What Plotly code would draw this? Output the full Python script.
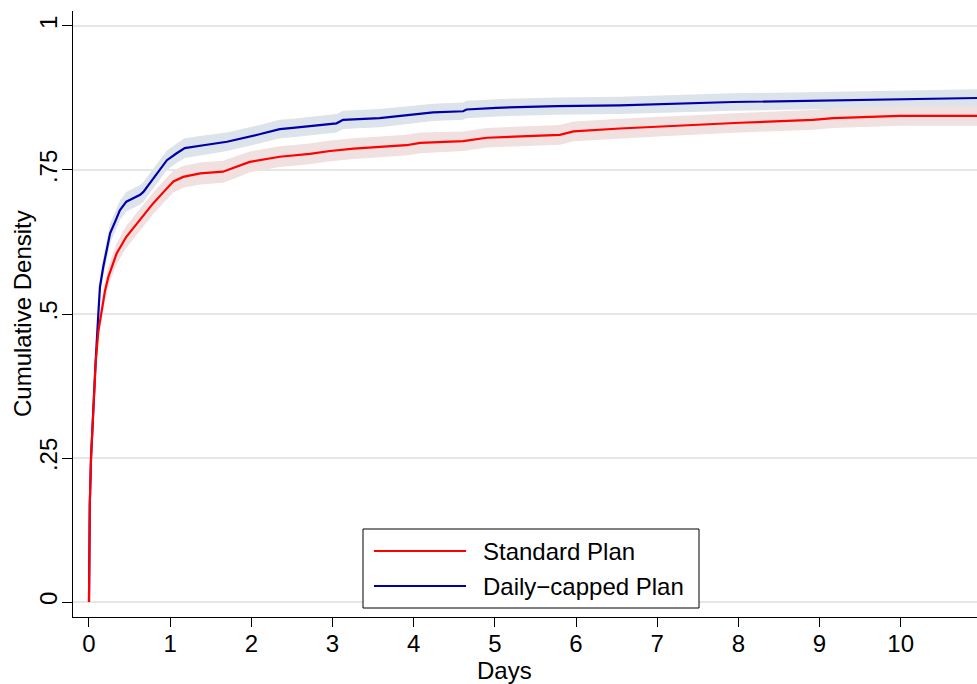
import plotly.graph_objects as go

# ---- data ----
std_days = [0, 0.01, 0.025, 0.053, 0.082, 0.115, 0.148, 0.197, 0.24, 0.34,
            0.46, 0.63, 0.79, 0.92, 1.04, 1.16, 1.37, 1.65, 1.77, 1.98,
            2.35, 2.72, 2.97, 3.26, 3.91, 4.08, 4.61, 4.9, 5.8, 5.97,
            6.54, 7.12, 8.02, 8.92, 9.17, 9.99, 10.94]
std_cdf = [0, 0.17, 0.25, 0.339, 0.415, 0.47, 0.5, 0.54, 0.565, 0.605,
           0.634, 0.663, 0.692, 0.712, 0.73, 0.738, 0.744, 0.747, 0.753, 0.764,
           0.773, 0.778, 0.783, 0.787, 0.793, 0.797, 0.8, 0.806, 0.811, 0.817,
           0.822, 0.826, 0.832, 0.837, 0.84, 0.844, 0.844]
std_ci = [0, 0.004, 0.007, 0.01, 0.012, 0.014, 0.015, 0.016, 0.017, 0.018,
          0.019, 0.019, 0.019, 0.019, 0.019, 0.019, 0.019, 0.019, 0.019, 0.018,
          0.018, 0.018, 0.018, 0.018, 0.018, 0.018, 0.017, 0.017, 0.017, 0.017,
          0.017, 0.017, 0.017, 0.017, 0.017, 0.017, 0.017]

cap_days = [0, 0.01, 0.025, 0.053, 0.082, 0.115, 0.135, 0.176, 0.26, 0.33,
            0.38, 0.46, 0.63, 0.67, 0.75, 0.83, 0.96, 1.08, 1.18, 1.41,
            1.7, 2.1, 2.35, 2.51, 2.72, 3.05, 3.13, 3.58, 4.24, 4.61,
            4.65, 5.02, 5.76, 6.54, 7.93, 9.78, 10.94]
cap_cdf = [0, 0.17, 0.25, 0.34, 0.418, 0.5, 0.547, 0.582, 0.64, 0.663,
           0.68, 0.695, 0.707, 0.712, 0.727, 0.741, 0.767, 0.779, 0.788, 0.793,
           0.799, 0.812, 0.821, 0.823, 0.826, 0.831, 0.837, 0.84, 0.85, 0.852,
           0.855, 0.858, 0.861, 0.862, 0.868, 0.873, 0.875]
cap_ci = [0, 0.004, 0.007, 0.01, 0.012, 0.014, 0.015, 0.016, 0.017, 0.017,
          0.017, 0.017, 0.017, 0.017, 0.017, 0.017, 0.017, 0.017, 0.017, 0.017,
          0.016, 0.016, 0.016, 0.016, 0.016, 0.016, 0.016, 0.016, 0.015, 0.015,
          0.015, 0.015, 0.015, 0.015, 0.015, 0.015, 0.015]

series_names = ["Standard Plan", "Daily\u2212capped Plan"]
y_tickvals = [0, 0.25, 0.5, 0.75, 1]
y_ticktext = ["0", ".25", ".5", ".75", "1"]
x_tickvals = list(range(0, 11))

RED = "#ff0000"
BLUE = "#0000a8"
RED_BAND = "rgb(240,224,224)"
BLUE_BAND = "rgb(221,227,234)"
FONT = "Liberation Sans, Arial, Helvetica, sans-serif"

fig = go.Figure()


def add_band(days, cdf, ci, color):
    lo = [v - c for v, c in zip(cdf, ci)]
    hi = [v + c for v, c in zip(cdf, ci)]
    fig.add_trace(go.Scatter(x=days, y=lo, mode="lines", line=dict(width=0, color=color),
                             showlegend=False, hoverinfo="skip"))
    fig.add_trace(go.Scatter(x=days, y=hi, mode="lines", line=dict(width=0, color=color),
                             fill="tonexty", fillcolor=color, showlegend=False, hoverinfo="skip"))


add_band(cap_days, cap_cdf, cap_ci, BLUE_BAND)
add_band(std_days, std_cdf, std_ci, RED_BAND)

fig.add_trace(go.Scatter(x=cap_days, y=cap_cdf, mode="lines", name=series_names[1],
                         line=dict(color=BLUE, width=2.2), showlegend=False))
fig.add_trace(go.Scatter(x=std_days, y=std_cdf, mode="lines", name=series_names[0],
                         line=dict(color=RED, width=2.2), showlegend=False))

# plot area geometry (pixels)
W, H = 977, 684
ML, MR, MT, MB = 73, 0, 11, 67
PW, PH = W - ML - MR, H - MT - MB


def px(xp):
    return (xp - ML) / PW


def py(yp):
    return (H - MB - yp) / PH


# custom legend (box, line samples, labels)
shapes = [
    dict(type="rect", xref="paper", yref="paper", x0=px(363), x1=px(699), y0=py(608), y1=py(529),
         line=dict(color="black", width=1), fillcolor="white", layer="above"),
    dict(type="line", xref="paper", yref="paper", x0=px(374), x1=px(466), y0=py(551), y1=py(551),
         line=dict(color=RED, width=2), layer="above"),
    dict(type="line", xref="paper", yref="paper", x0=px(374), x1=px(466), y0=py(586), y1=py(586),
         line=dict(color=BLUE, width=2), layer="above"),
]
annotations = [
    dict(xref="paper", yref="paper", x=px(481), y=py(551), text=series_names[0], showarrow=False,
         xanchor="left", yanchor="middle", font=dict(size=24, color="black", family=FONT)),
    dict(xref="paper", yref="paper", x=px(481), y=py(586), text=series_names[1], showarrow=False,
         xanchor="left", yanchor="middle", font=dict(size=24, color="black", family=FONT)),
    dict(xref="paper", yref="paper", x=0, y=0.5, xshift=-51, text="Cumulative Density", showarrow=False,
         textangle=-90, xanchor="center", yanchor="middle", font=dict(size=24, color="black", family=FONT)),
    dict(xref="paper", yref="paper", x=px(504), y=0, yshift=-53, text="Days", showarrow=False,
         xanchor="center", yanchor="middle", font=dict(size=24, color="black", family=FONT)),
]

fig.update_layout(
    width=W, height=H,
    margin=dict(l=ML, r=MR, t=MT, b=MB, pad=0),
    paper_bgcolor="white", plot_bgcolor="white",
    font=dict(family=FONT, size=24, color="black"),
    shapes=shapes, annotations=annotations,
    showlegend=False,
    xaxis=dict(range=[-0.197, 10.94], tickvals=x_tickvals, ticks="outside", ticklen=9,
               tickcolor="black", tickwidth=1.3, showline=True, linecolor="black", linewidth=1.3,
               showgrid=False, zeroline=False, tickfont=dict(size=24), ticklabelstandoff=-4),
    yaxis=dict(range=[-0.026, 1.026], tickvals=y_tickvals, ticktext=y_ticktext, ticks="outside",
               ticklen=10, tickcolor="black", tickwidth=1.3, showline=True, linecolor="black",
               linewidth=1.3, showgrid=True, gridcolor="#e6e6e6", gridwidth=1.5, zeroline=False,
               tickangle=-90, tickfont=dict(size=24), ticklabelstandoff=-5),
)

fig.write_html("out.html")
